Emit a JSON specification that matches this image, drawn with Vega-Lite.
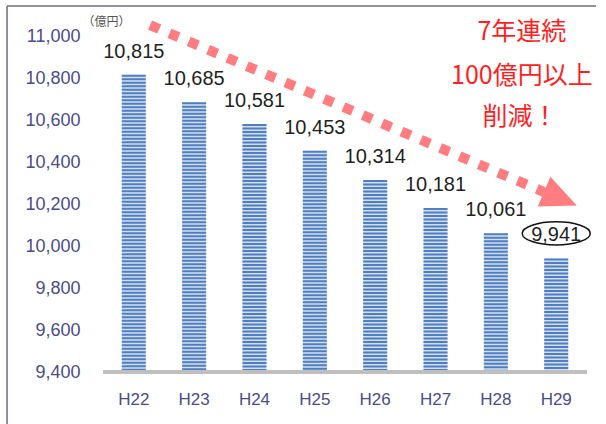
{
  "$schema": "https://vega.github.io/schema/vega-lite/v6.json",
  "width": 484,
  "height": 336,
  "autosize": {"type": "none"},
  "padding": {"left": 103, "top": 36, "right": 19, "bottom": 52},
  "background": "white",
  "config": {"view": {"stroke": null}},
  "datasets": {
    "debt": [
      {"year": "H22", "value": 10815},
      {"year": "H23", "value": 10685},
      {"year": "H24", "value": 10581},
      {"year": "H25", "value": 10453},
      {"year": "H26", "value": 10314},
      {"year": "H27", "value": 10181},
      {"year": "H28", "value": 10061},
      {"year": "H29", "value": 9941}
    ],
    "frame": [
      {"pos": -2.1, "pos2": 7.66, "value": 11143, "value2": 11143},
      {"pos": -2.1, "pos2": -2.1, "value": 11143, "value2": 9100}
    ],
    "arrow": [
      {"pos": 0.27, "pos2": 6.8, "value": 11052, "value2": 10257}
    ],
    "arrowhead": [
      {"pos": 7.07, "value": 10226}
    ],
    "note": [
      {"pos": 6.43, "value": 11019, "label": "7年連続"},
      {"pos": 6.43, "value": 10810, "label": "100億円以上"},
      {"pos": 6.4, "value": 10614, "label": "削減！"}
    ]
  },
  "layer": [
    {
      "data": {"name": "debt"},
      "encoding": {
        "x": {
          "field": "year",
          "type": "nominal",
          "sort": null,
          "scale": {"paddingInner": 0.6, "paddingOuter": 0.31},
          "axis": {
            "title": null,
            "labelAngle": 0,
            "labelFont": "Liberation Sans",
            "labelFontSize": 17,
            "labelColor": "#4b4c88",
            "labelBaseline": "middle",
            "labelPadding": 27,
            "ticks": false,
            "tickSize": 0,
            "domain": false,
            "grid": false
          }
        },
        "y": {
          "field": "value",
          "type": "quantitative",
          "scale": {"domain": [9400, 11000], "nice": false, "zero": false},
          "axis": {
            "title": "（億円）",
            "titleAngle": 0,
            "titleX": -21,
            "titleY": -15,
            "titleAlign": "left",
            "titleBaseline": "middle",
            "titleFont": "Noto Sans CJK JP",
            "titleFontSize": 12,
            "titleFontWeight": "normal",
            "titleColor": "#555555",
            "values": [9400, 9600, 9800, 10000, 10200, 10400, 10600, 10800, 11000],
            "format": ",",
            "labelExpr": "format(datum.value, ',')",
            "labelFont": "Liberation Sans",
            "labelFontSize": 18,
            "labelColor": "#4b4c88",
            "labelPadding": 23,
            "ticks": false,
            "tickSize": 0,
            "domain": false,
            "grid": false
          }
        }
      },
      "layer": [
        {
          "mark": {"type": "bar", "color": "#d3dff1", "clip": false},
          "encoding": {"y2": {"datum": 9400}}
        },
        {
          "mark": {"type": "rule", "color": "#4f7fc0", "strokeWidth": 24, "strokeDash": [2, 1.5], "strokeCap": "butt"},
          "encoding": {"y2": {"datum": 9400}}
        },
        {
          "mark": {"type": "rule", "color": "#bfbfbf", "strokeWidth": 4},
          "encoding": {"x": null, "y": {"datum": 9400, "type": "quantitative"}}
        },
        {
          "mark": {"type": "text", "font": "Liberation Sans", "fontSize": 20, "color": "#1f1f1f", "baseline": "alphabetic", "dy": -17},
          "encoding": {"text": {"field": "value", "type": "quantitative", "format": ","}}
        },
        {
          "transform": [{"filter": "datum.year == 'H29'"}],
          "mark": {
            "type": "point",
            "shape": "M1,-0.735C1,-0.547,0.552,-0.395,0,-0.395C-0.552,-0.395,-1,-0.547,-1,-0.735C-1,-0.923,-0.552,-1.075,0,-1.075C0.552,-1.075,1,-0.923,1,-0.735Z",
            "size": 4624,
            "filled": false,
            "stroke": "#111111",
            "strokeWidth": 1.5,
            "opacity": 1,
            "clip": false
          }
        }
      ]
    },
    {
      "encoding": {
        "x": {
          "field": "pos",
          "type": "quantitative",
          "scale": {"domain": [-0.51, 7.51], "nice": false, "zero": false},
          "axis": null
        },
        "y": {
          "field": "value",
          "type": "quantitative",
          "axis": {
            "title": "（億円）",
            "titleAngle": 0,
            "titleX": -21,
            "titleY": -15,
            "titleAlign": "left",
            "titleBaseline": "middle",
            "titleFont": "Noto Sans CJK JP",
            "titleFontSize": 12,
            "titleFontWeight": "normal",
            "titleColor": "#555555",
            "values": [9400, 9600, 9800, 10000, 10200, 10400, 10600, 10800, 11000],
            "format": ",",
            "labelExpr": "format(datum.value, ',')",
            "labelFont": "Liberation Sans",
            "labelFontSize": 18,
            "labelColor": "#4b4c88",
            "labelPadding": 23,
            "ticks": false,
            "tickSize": 0,
            "domain": false,
            "grid": false
          }
        }
      },
      "layer": [
        {
          "data": {"name": "frame"},
          "mark": {"type": "rule", "color": "#6c6c80", "strokeWidth": 1.5, "clip": false},
          "encoding": {"x2": {"field": "pos2"}, "y2": {"field": "value2"}}
        },
        {
          "data": {"name": "arrow"},
          "mark": {"type": "rule", "color": "#ff7c80", "strokeWidth": 10, "strokeDash": [10, 11], "strokeCap": "butt", "clip": false},
          "encoding": {"x2": {"field": "pos2"}, "y2": {"field": "value2"}}
        },
        {
          "data": {"name": "arrowhead"},
          "mark": {"type": "point", "shape": "M1,0L-1,-0.91L-1,0.91Z", "size": 1260, "angle": 23, "filled": true, "color": "#ff7c80", "opacity": 1, "clip": false}
        },
        {
          "data": {"name": "note"},
          "mark": {"type": "text", "font": "Noto Sans CJK JP", "fontSize": 25, "color": "#ff1f1f", "baseline": "middle", "clip": false},
          "encoding": {"text": {"field": "label", "type": "nominal"}}
        }
      ]
    }
  ],
  "resolve": {"scale": {"x": "independent"}}
}
